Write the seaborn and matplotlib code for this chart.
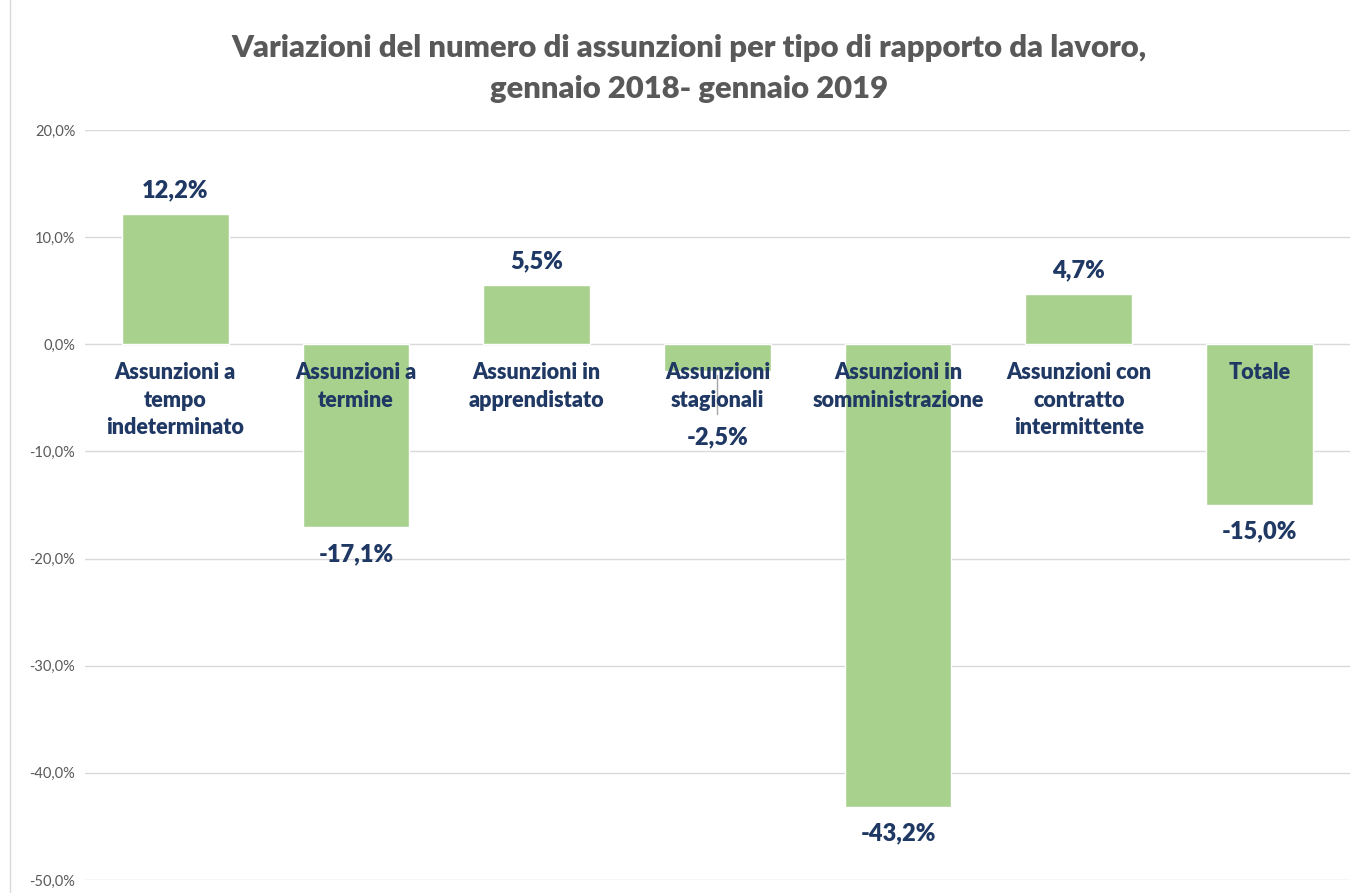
import matplotlib.pyplot as plt
import matplotlib.patches as mpatches
import seaborn as sns
import pandas as pd

categories = ["Assunzioni a\ntempo\nindeterminato", "Assunzioni a\ntermine",
              "Assunzioni in\napprendistato", "Assunzioni\nstagionali",
              "Assunzioni in\nsomministrazione", "Assunzioni con\ncontratto\nintermittente",
              "Totale"]
values = [12.2, -17.1, 5.5, -2.5, -43.2, 4.7, -15.0]
labels = ["12,2%", "-17,1%", "5,5%", "-2,5%", "-43,2%", "4,7%", "-15,0%"]
yticks = [20, 10, 0, -10, -20, -30, -40, -50]

sns.set_style("white")
plt.rcParams['font.family'] = ['Lato', 'DejaVu Sans']

navy = "#1F3864"
grey = "#595959"
green = "#A9D18E"
W = 'heavy'

df = pd.DataFrame({"cat": categories, "val": values})

fig = plt.figure(figsize=(13.6, 8.93), dpi=100)
ax = fig.add_axes([0.0625, 0.0146, 0.930, 0.8398])
sns.barplot(data=df, x="cat", y="val", color=green, width=0.59,
            saturation=1, ax=ax, zorder=3)

ax.set_ylim(-50, 20)
ax.set_xlim(-0.5, 6.5)
ax.set_yticks(yticks)
ax.set_yticklabels([f"{t:.1f}%".replace(".", ",") for t in yticks],
                   color=grey, fontsize=10.5)
ax.tick_params(axis='y', length=0, pad=7)
ax.set_xticks([])
ax.set_xlabel("")
ax.set_ylabel("")
ax.grid(axis='y', color="#D9D9D9", linewidth=1, zorder=0)
ax.set_axisbelow(True)
for s in ax.spines.values():
    s.set_visible(False)

# category labels just below the zero line
for i, c in enumerate(categories):
    ax.annotate(c, (i, 0), xytext=(0, -13), textcoords='offset points',
                ha='center', va='top', fontsize=15.5, fontweight=W,
                color=navy, linespacing=1.37, zorder=5)

# value labels
for i, (v, lab) in enumerate(zip(values, labels)):
    if i == 3:
        # placed lower with a leader line, as in the original
        ax.plot([i, i], [-2.9, -6.5], color="#A6A6A6", lw=1, zorder=4)
        ax.annotate(lab, (i, v), xytext=(0, -48), textcoords='offset points',
                    ha='center', va='center', fontsize=17, fontweight=W, color=navy)
    elif v >= 0:
        ax.annotate(lab, (i, v), xytext=(0, 17), textcoords='offset points',
                    ha='center', va='center', fontsize=17, fontweight=W, color=navy)
    else:
        ax.annotate(lab, (i, v), xytext=(0, -19), textcoords='offset points',
                    ha='center', va='center', fontsize=17, fontweight=W, color=navy)

fig.text(0.507, 0.923, "Variazioni del numero di assunzioni per tipo di rapporto da lavoro,\ngennaio 2018- gennaio 2019",
         ha='center', va='center', fontsize=22.3, fontweight=W, color=grey, linespacing=1.55)

# chart border
fig.patches.append(mpatches.Rectangle((0.0075, -0.01), 1.1, 1.1, transform=fig.transFigure,
                                      fill=False, edgecolor="#D9D9D9", lw=1))

fig.savefig("out.png", dpi=100)
